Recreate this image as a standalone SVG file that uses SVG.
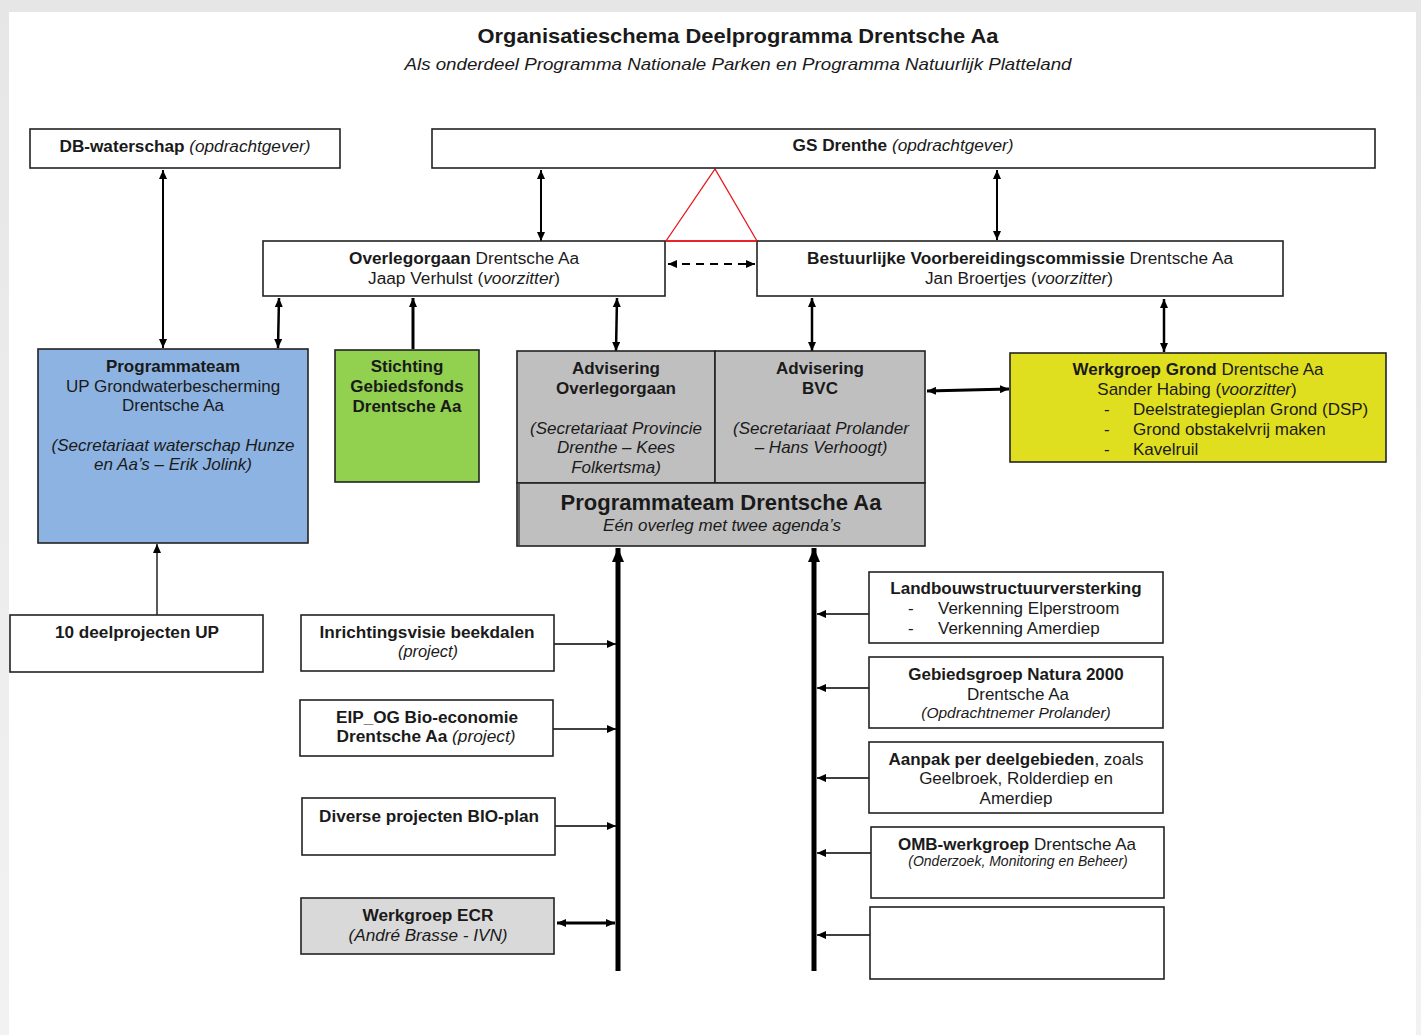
<svg xmlns="http://www.w3.org/2000/svg" width="1421" height="1035" viewBox="0 0 1421 1035">
<style>
text{font-family:"Liberation Sans",Arial,Helvetica,sans-serif;fill:#1a1a1a}
.c{text-anchor:middle}
.b{font-weight:bold}
.i{font-style:italic}
.n{font-size:16px}
.r{font-size:17px}
.box{stroke:#222;stroke-width:1.6;fill:#fff}
.ln{stroke:#000;stroke-width:2;fill:none}
.mid{stroke-width:2.5}
.thick{stroke-width:3}
.trunk{stroke-width:5}
.thin{stroke:#000;stroke-width:1.3;fill:none}
</style>
<defs>
<linearGradient id="bg" x1="0" y1="0" x2="0" y2="1"><stop offset="0" stop-color="#e6e6e6"/><stop offset="1" stop-color="#f2f2f2"/></linearGradient>
<marker id="ahs" markerUnits="userSpaceOnUse" markerWidth="9" markerHeight="8" refX="9" refY="4" orient="auto-start-reverse"><path d="M0,0 L9,4 L0,8 z" fill="#000"/></marker>
<marker id="ahb" markerUnits="userSpaceOnUse" markerWidth="14" markerHeight="12" refX="14" refY="6" orient="auto-start-reverse"><path d="M0,0 L14,6 L0,12 z" fill="#000"/></marker>
</defs>
<rect x="0" y="0" width="1421" height="1035" fill="url(#bg)"/>
<rect x="9" y="12" width="1407" height="1030" fill="#fff"/>

<g id="title">
<text class="c b" x="738" y="43" font-size="21" textLength="521" lengthAdjust="spacingAndGlyphs">Organisatieschema Deelprogramma Drentsche Aa</text>
<text class="c i" x="738" y="70" font-size="17" textLength="667" lengthAdjust="spacingAndGlyphs">Als onderdeel Programma Nationale Parken en Programma Natuurlijk Platteland</text>
</g>

<g id="connectors">
<path d="M666,241 L715,169 L757,241 Z" fill="none" stroke="#e8141b" stroke-width="1.3"/>
<line class="ln" x1="163" y1="170" x2="163" y2="348" marker-start="url(#ahs)" marker-end="url(#ahs)"/>
<line class="ln" x1="541" y1="170" x2="541" y2="241" marker-start="url(#ahs)" marker-end="url(#ahs)"/>
<line class="ln" x1="997" y1="170" x2="997" y2="240" marker-start="url(#ahs)" marker-end="url(#ahs)"/>
<line class="ln" x1="668" y1="264" x2="755" y2="264" stroke-dasharray="8,6" marker-start="url(#ahs)" marker-end="url(#ahs)"/>
<line class="ln mid" x1="279" y1="298" x2="278" y2="348" marker-start="url(#ahs)" marker-end="url(#ahs)"/>
<line class="ln thick" x1="413" y1="298" x2="413" y2="349" marker-start="url(#ahs)"/>
<line class="ln mid" x1="617" y1="298" x2="616" y2="351" marker-start="url(#ahs)" marker-end="url(#ahs)"/>
<line class="ln mid" x1="812" y1="298" x2="812" y2="351" marker-start="url(#ahs)" marker-end="url(#ahs)"/>
<line class="ln mid" x1="1164" y1="299" x2="1164" y2="352" marker-start="url(#ahs)" marker-end="url(#ahs)"/>
<line class="ln thick" x1="927" y1="391" x2="1009" y2="389" marker-start="url(#ahs)" marker-end="url(#ahs)"/>
<line class="thin" x1="157" y1="615" x2="157" y2="544" marker-end="url(#ahs)"/>
<line class="ln trunk" x1="618" y1="971" x2="618" y2="548" marker-end="url(#ahb)"/>
<line class="ln trunk" x1="814" y1="971" x2="814" y2="548" marker-end="url(#ahb)"/>
<line class="thin" x1="554" y1="644" x2="616" y2="644" marker-end="url(#ahs)"/>
<line class="thin" x1="553" y1="729" x2="616" y2="729" marker-end="url(#ahs)"/>
<line class="thin" x1="555" y1="826" x2="616" y2="826" marker-end="url(#ahs)"/>
<line class="ln thick" x1="557" y1="923" x2="615" y2="923" marker-start="url(#ahs)" marker-end="url(#ahs)"/>
<line class="thin" x1="869" y1="614" x2="817" y2="614" marker-end="url(#ahs)"/>
<line class="thin" x1="869" y1="688" x2="817" y2="688" marker-end="url(#ahs)"/>
<line class="thin" x1="869" y1="778" x2="817" y2="778" marker-end="url(#ahs)"/>
<line class="thin" x1="871" y1="853" x2="817" y2="853" marker-end="url(#ahs)"/>
<line class="thin" x1="870" y1="935" x2="817" y2="935" marker-end="url(#ahs)"/>
</g>

<g id="db-waterschap">
<rect class="box" x="30" y="129" width="310" height="39"/>
<text class="c n" x="185" y="152" textLength="251" lengthAdjust="spacingAndGlyphs"><tspan class="b">DB-waterschap</tspan> <tspan class="i">(opdrachtgever)</tspan></text>
</g>

<g id="gs-drenthe">
<rect class="box" x="432" y="129" width="943" height="39"/>
<text class="c n" x="903" y="151" textLength="221" lengthAdjust="spacingAndGlyphs"><tspan class="b">GS Drenthe</tspan> <tspan class="i">(opdrachtgever)</tspan></text>
</g>

<g id="overlegorgaan">
<rect class="box" x="263" y="241" width="402" height="55"/>
<text class="c n" x="464" y="264" textLength="230" lengthAdjust="spacingAndGlyphs"><tspan class="b">Overlegorgaan</tspan> Drentsche Aa</text>
<text class="c n" x="464" y="284" textLength="192" lengthAdjust="spacingAndGlyphs">Jaap Verhulst (<tspan class="i">voorzitter</tspan>)</text>
</g>

<g id="bvc">
<rect class="box" x="757" y="241" width="526" height="55"/>
<line x1="666" y1="241" x2="757" y2="241" stroke="#e8141b" stroke-width="1.3"/>
<text class="c n" x="1020" y="264" textLength="426" lengthAdjust="spacingAndGlyphs"><tspan class="b">Bestuurlijke Voorbereidingscommissie</tspan> Drentsche Aa</text>
<text class="c n" x="1019" y="284" textLength="188" lengthAdjust="spacingAndGlyphs">Jan Broertjes (<tspan class="i">voorzitter</tspan>)</text>
</g>

<g id="programmateam-up">
<rect class="box" x="38" y="349" width="270" height="194" style="fill:#8db3e2"/>
<text class="c r b" x="173" y="372">Programmateam</text>
<text class="c r" x="173" y="392">UP Grondwaterbescherming</text>
<text class="c r" x="173" y="411">Drentsche Aa</text>
<text class="c r i" x="173" y="451">(Secretariaat waterschap Hunze</text>
<text class="c r i" x="173" y="470">en Aa’s – Erik Jolink)</text>
</g>

<g id="stichting">
<rect class="box" x="335" y="350" width="144" height="132" style="fill:#92d050"/>
<text class="c r b" x="407" y="372">Stichting</text>
<text class="c r b" x="407" y="392">Gebiedsfonds</text>
<text class="c r b" x="407" y="412">Drentsche Aa</text>
</g>

<g id="advisering-overlegorgaan">
<rect class="box" x="517" y="351" width="198" height="132" style="fill:#bfbfbf"/>
<text class="c r b" x="616" y="374">Advisering</text>
<text class="c r b" x="616" y="394">Overlegorgaan</text>
<text class="c r i" x="616" y="434">(Secretariaat Provincie</text>
<text class="c r i" x="616" y="453">Drenthe – Kees</text>
<text class="c r i" x="616" y="473">Folkertsma)</text>
</g>

<g id="advisering-bvc">
<rect class="box" x="715" y="351" width="210" height="132" style="fill:#bfbfbf"/>
<text class="c r b" x="820" y="374">Advisering</text>
<text class="c r b" x="820" y="394">BVC</text>
<text class="c r i" x="821" y="434">(Secretariaat Prolander</text>
<text class="c r i" x="821" y="453">– Hans Verhoogt)</text>
</g>

<g id="programmateam-drentsche-aa">
<rect class="box" x="517" y="483" width="408" height="63" style="fill:#bfbfbf"/>
<line x1="519" y1="484" x2="519" y2="545" stroke="#222" stroke-width="1.2"/>
<text class="c b" x="721" y="510" font-size="22">Programmateam Drentsche Aa</text>
<text class="c i" x="722" y="531" font-size="17">Eén overleg met twee agenda’s</text>
</g>

<g id="werkgroep-grond">
<rect class="box" x="1010" y="353" width="376" height="109" style="fill:#e0df1f"/>
<text class="c r" x="1198" y="375"><tspan class="b">Werkgroep Grond</tspan> Drentsche Aa</text>
<text class="c r" x="1197" y="395">Sander Habing (<tspan class="i">voorzitter</tspan>)</text>
<text class="r" x="1104" y="415">-</text><text class="r" x="1133" y="415">Deelstrategieplan Grond (DSP)</text>
<text class="r" x="1104" y="435">-</text><text class="r" x="1133" y="435">Grond obstakelvrij maken</text>
<text class="r" x="1104" y="455">-</text><text class="r" x="1133" y="455">Kavelruil</text>
</g>

<g id="deelprojecten-up">
<rect class="box" x="10" y="615" width="253" height="57"/>
<text class="c n b" x="137" y="638" textLength="164" lengthAdjust="spacingAndGlyphs">10 deelprojecten UP</text>
</g>

<g id="inrichtingsvisie">
<rect class="box" x="301" y="615" width="253" height="56"/>
<text class="c n b" x="427" y="638" textLength="215" lengthAdjust="spacingAndGlyphs">Inrichtingsvisie beekdalen</text>
<text class="c n i" x="428" y="657" textLength="60" lengthAdjust="spacingAndGlyphs">(project)</text>
</g>

<g id="eip-og">
<rect class="box" x="300" y="700" width="253" height="56"/>
<text class="c n b" x="427" y="723" textLength="182" lengthAdjust="spacingAndGlyphs">EIP_OG Bio-economie</text>
<text class="c n" x="426" y="742" textLength="179" lengthAdjust="spacingAndGlyphs"><tspan class="b">Drentsche Aa</tspan> <tspan class="i">(project)</tspan></text>
</g>

<g id="bio-plan">
<rect class="box" x="302" y="798" width="253" height="57"/>
<text class="c n b" x="429" y="822" textLength="220" lengthAdjust="spacingAndGlyphs">Diverse projecten BIO-plan</text>
</g>

<g id="werkgroep-ecr">
<rect class="box" x="301" y="898" width="253" height="56" style="fill:#d9d9d9"/>
<text class="c n b" x="428" y="921" textLength="131" lengthAdjust="spacingAndGlyphs">Werkgroep ECR</text>
<text class="c n i" x="428" y="941" textLength="159" lengthAdjust="spacingAndGlyphs">(André Brasse - IVN)</text>
</g>

<g id="landbouwstructuurversterking">
<rect class="box" x="869" y="572" width="294" height="71"/>
<text class="c r b" x="1016" y="594">Landbouwstructuurversterking</text>
<text class="r" x="908" y="614">-</text><text class="r" x="938" y="614">Verkenning Elperstroom</text>
<text class="r" x="908" y="634">-</text><text class="r" x="938" y="634">Verkenning Amerdiep</text>
</g>

<g id="natura-2000">
<rect class="box" x="869" y="657" width="294" height="71"/>
<text class="c r b" x="1016" y="680">Gebiedsgroep Natura 2000</text>
<text class="c r" x="1018" y="700">Drentsche Aa</text>
<text class="c i" x="1016" y="718" font-size="15.5">(Opdrachtnemer Prolander)</text>
</g>

<g id="aanpak">
<rect class="box" x="869" y="742" width="294" height="71"/>
<text class="c r" x="1016" y="765"><tspan class="b">Aanpak per deelgebieden</tspan>, zoals</text>
<text class="c r" x="1016" y="784">Geelbroek, Rolderdiep en</text>
<text class="c r" x="1016" y="804">Amerdiep</text>
</g>

<g id="omb-werkgroep">
<rect class="box" x="871" y="827" width="293" height="71"/>
<text class="c r" x="1017" y="850"><tspan class="b">OMB-werkgroep</tspan> Drentsche Aa</text>
<text class="c i" x="1018" y="866" font-size="14">(Onderzoek, Monitoring en Beheer)</text>
</g>

<g id="empty-box">
<rect class="box" x="870" y="907" width="294" height="72"/>
</g>
</svg>
